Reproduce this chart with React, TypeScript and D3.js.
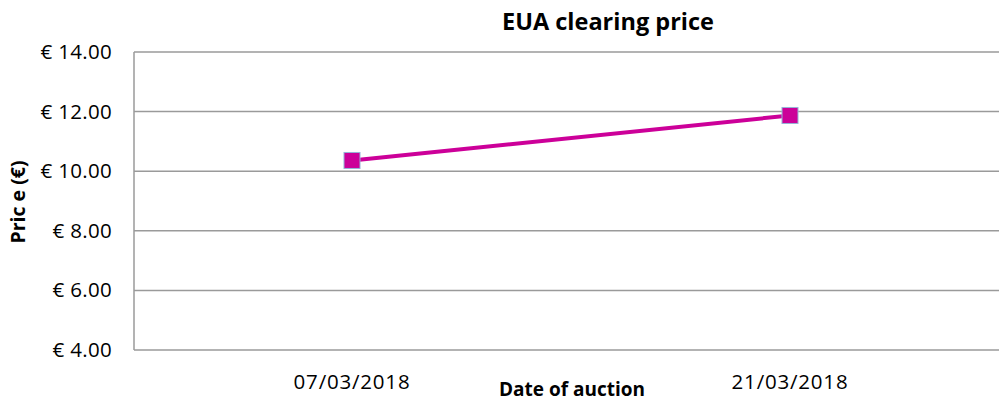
import React from "react";
import * as d3 from "d3";

const categories: string[] = ["07/03/2018", "21/03/2018"];
const prices: number[] = [10.36, 11.87];
const yTicks: number[] = [4, 6, 8, 10, 12, 14];

const W = 999;
const H = 403;
const margin = { left: 134, top: 52, right: 0, bottom: 53 };

export default function App() {
  const x = d3.scaleBand<string>().domain(categories).range([133, 1009]).padding(0);
  const y = d3.scaleLinear().domain([4, 14]).range([350, 52]);
  const line = d3
    .line<number>()
    .x((_, i) => (x(categories[i]) as number) + x.bandwidth() / 2)
    .y((d) => y(d));
  const font = "'Open Sans', sans-serif";
  return (
    <svg
      width={W}
      height={H}
      style={{ position: "absolute", left: 0, top: 0, background: "#fff" }}
      fontFamily={font}
    >
      <text x={608} y={30} textAnchor="middle" fontWeight="bold" fontSize={23.5} fill="#000">
        EUA clearing price
      </text>
      {yTicks.map((t) => (
        <g key={t}>
          <line x1={margin.left} x2={W} y1={y(t)} y2={y(t)} stroke="#9a9a9a" strokeWidth={1.5} />
          <text x={112} y={y(t) + 7} textAnchor="end" fontSize={20.5} letterSpacing={0.3} fill="#000">
            {"€ " + t.toFixed(2)}
          </text>
        </g>
      ))}
      <line x1={margin.left} x2={margin.left} y1={52} y2={350} stroke="#9a9a9a" strokeWidth={1.5} />
      {categories.map((c) => (
        <text
          key={c}
          x={(x(c) as number) + x.bandwidth() / 2}
          y={389}
          textAnchor="middle"
          fontSize={20.5}
          letterSpacing={0.8}
          fill="#000"
        >
          {c}
        </text>
      ))}
      <text x={572} y={396} textAnchor="middle" fontWeight="bold" fontSize={19} fill="#000">
        Date of auction
      </text>
      <text
        transform={`translate(25,202) rotate(-90)`}
        textAnchor="middle"
        fontWeight="bold"
        fontSize={19.5}
        fill="#000"
      >
        Pric e (€)
      </text>
      <path d={line(prices) || ""} fill="none" stroke="#CC0099" strokeWidth={4} />
      {prices.map((p, i) => {
        const cx = (x(categories[i]) as number) + x.bandwidth() / 2;
        const cy = y(p);
        return (
          <rect
            key={i}
            x={cx - 8}
            y={cy - 8}
            width={16}
            height={16}
            fill="#CC0099"
            stroke="#95B3D7"
            strokeWidth={1}
          />
        );
      })}
    </svg>
  );
}
